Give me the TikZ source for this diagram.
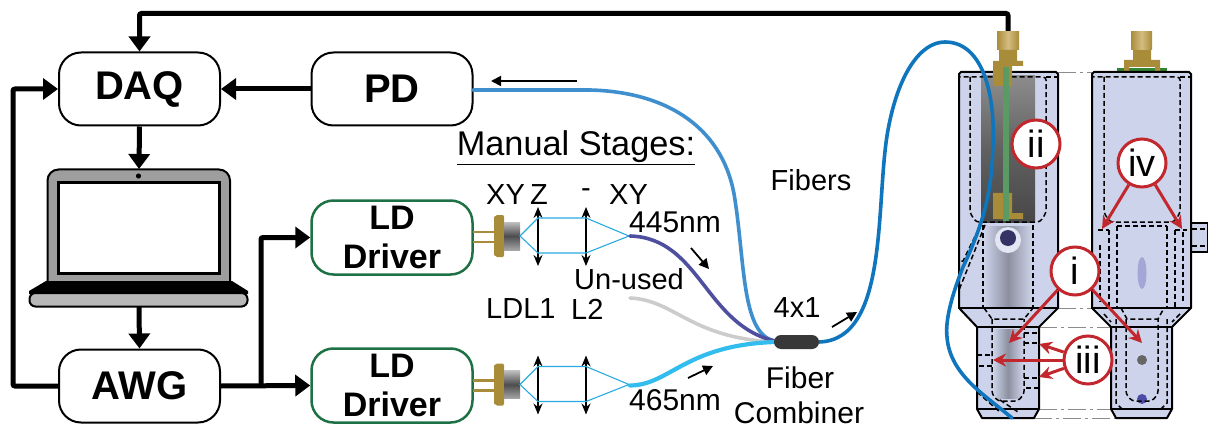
\documentclass[tikz,border=0pt]{standalone}
\usepackage{fontspec}
\setmainfont{Liberation Sans}
\usetikzlibrary{arrows.meta,calc}
\definecolor{redc}{HTML}{C1272D}
\definecolor{body}{HTML}{CDD3EA}
\definecolor{gold}{HTML}{C2A04A}
\definecolor{golddk}{HTML}{A88C3A}
\definecolor{dgreen}{HTML}{1E7145}
\definecolor{beam}{HTML}{29ABE2}
\definecolor{outblue}{HTML}{0F75BD}
\definecolor{pdblue}{HTML}{3F8FCF}
\definecolor{indigo}{HTML}{4F4FA0}
\definecolor{skyb}{HTML}{33BDEF}
\definecolor{pcb}{HTML}{5B9A62}
\tikzset{
 blackbox/.style={draw=black,line width=2pt,rounded corners=22pt,minimum width=161pt,minimum height=73pt,align=center,font=\fontsize{40}{40}\selectfont\bfseries},
 greenbox/.style={draw=dgreen,line width=2.5pt,rounded corners=22pt,minimum width=161pt,minimum height=74pt,align=center,inner sep=0pt,font=\fontsize{34}{39}\selectfont\bfseries},
 conn/.style={line width=5pt,-{Triangle[length=15pt,width=21pt]}},
 smallarrow/.style={line width=1.8pt,-{Triangle[length=10pt,width=10pt]}},
 lbl/.style={font=\fontsize{29}{29}\selectfont,inner sep=0pt},
 lblb/.style={font=\fontsize{30}{30}\selectfont,inner sep=0pt},
 callout/.style={circle,draw=redc,line width=3pt,fill=white,minimum size=48pt,inner sep=0pt,font=\fontsize{38}{38}\selectfont},
 redarrow/.style={draw=redc,line width=3pt,-{Stealth[length=13pt,width=13pt]}},
 lensarrow/.style={line width=1.4pt,{Stealth[length=11pt,width=9pt]}-{Stealth[length=11pt,width=9pt]}},
 ray/.style={draw=beam,line width=1.1pt},
 dashln/.style={line width=1.5pt,dash pattern=on 5pt off 3pt},
 ghost/.style={draw=black!45,line width=.8pt,dash pattern=on 18pt off 4pt on 3pt off 4pt},
 outlined/.style={draw=black,line width=2pt,fill=body,line join=round},
 fiber/.style={line width=3.6pt,line cap=round},
}
\newcommand{\diode}[1]{%
 \begin{scope}[yshift=-#1pt]
 \draw[golddk,line width=2.4pt] (473,232) -- (495,232) (473,242) -- (495,242);
 \fill[golddk] (494,217) -- (497,215) -- (503,215) -- (504,217) -- (504,255) -- (503,257) -- (497,257) -- (494,255) -- cycle;
 \shade[top color=black!25,bottom color=black!35,middle color=black!70] (504,222) rectangle (520,250);
 \draw[lensarrow] (538,207) -- (538,266);
 \draw[lensarrow] (586,207) -- (586,266);
 \draw[ray] (520,236) -- (538,218) -- (586,218) -- (629,236) -- (586,253) -- (538,253) -- cycle;
 \end{scope}}
\begin{document}
\begin{tikzpicture}[x=1pt,y=-1pt]
\useasboundingbox (0,0) rectangle (1208,425);
% boxes
\node[blackbox] (daq) at (139.5,89) {DAQ};
\node[blackbox] (pd) at (392,89) {PD};
\node[blackbox] (awg) at (139.5,386) {AWG};
\node[greenbox] (lda) at (392,237.5) {LD\\Driver};
\node[greenbox] (ldb) at (392,385.5) {LD\\Driver};
% laptop
\draw[line width=2pt,fill=black!38,rounded corners=11pt] (47.5,283) -- (47.5,169.5) -- (230,169.5) -- (230,283);
\fill[black] (46,281) -- (232,281) -- (248,291) -- (248,294) -- (29,294) -- (29,291) -- cycle;
\draw[line width=2pt,fill=black!28,rounded corners=6pt] (29.5,293) -- (29.5,306.5) -- (247.5,306.5) -- (247.5,293) -- cycle;
\draw[line width=3pt,fill=white] (58.5,182.5) rectangle (219.5,273.5);
\fill (138.5,176) circle (2.6pt);
\coordinate (laptoptop) at (139,169);
\coordinate (laptopbot) at (139,307);
\coordinate (sma) at (1008,32);
\coordinate (jn) at (261,385.5);
% connectors
\draw[conn,rounded corners=2pt] (sma) -- (1008,13.5) -- (139.5,13.5) -- (daq.north);
\draw[conn] (pd.west) -- (daq.east);
\draw[conn] (daq.south) -- (laptoptop);
\draw[conn] (laptopbot) -- (awg.north);
\draw[conn,rounded corners=2pt] (awg.west) -- (13,386) |- (daq.west);
\draw[conn] (awg.east) -- (ldb.west);
\draw[conn,rounded corners=2pt] (jn) |- (lda.west);
% optics
\diode{0}
\diode{148.5}
% mechanical left
\draw[ghost] (1058,72) -- (1092,72) (1058,308) -- (1092,308) (1039,327) -- (1111,327) (1039,409) -- (1111,409) (1034,418) -- (1116,418);
\draw[outlined] (959,74) -- (961,72) -- (1056,72) -- (1058,74) -- (1058,308) -- (1039,327) -- (1039,409) -- (1034,418) -- (982,418) -- (977,409) -- (977,327) -- (959,308) -- cycle;
\draw[black,line width=2pt] (959,308) -- (1058,308) (977,327) -- (1039,327) (977,409) -- (1039,409);
\shade[top color=black!45,bottom color=black!72,middle color=black!62] (981,76) rectangle (1035,222);
\shade[left color=body,right color=body,middle color=body!68!black] (984,226) rectangle (1032,306);
\shade[left color=body,right color=body,middle color=body!68!black] (993,329) rectangle (1023,398);
\fill[white!45!body] (1008,240) circle (13pt);
\fill[blue!25!black!80] (1008,238) circle (8pt);
% dashes left
\draw[dashln,rounded corners=3pt] (970,77) -- (970,213) -- (976,222) -- (1040,222) -- (1046,213) -- (1046,77) -- (959,77);
\draw[dashln] (1046,77) -- (1058,77);
\draw[dashln] (983,225) -- (983,308) (1033,225) -- (1033,308);
\draw[dashln] (985,225) -- (959,290);
\draw[dashln] (982,222) -- (963,261) -- (959,261);
\draw[dashln] (984,308) -- (992,319) -- (1024,319) -- (1033,308);
\draw[dashln,rounded corners=3pt] (992,319) -- (992,394) -- (998,401) -- (1018,401) -- (1024,394) -- (1024,319);
\draw[dashln] (1024,333) -- (1039,333) (1024,343) -- (1037,343) (977,355) -- (992,355) (979,366) -- (992,366) (1024,378) -- (1039,378) (1026,388) -- (1039,388);
\draw[dashln] (977,392) -- (1000,412) (1000,400) -- (1018,412);
% gold left
\shade[left color=golddk,right color=golddk,middle color=gold!70!white] (997,32) rectangle (1019,50);
\fill[golddk] (999,50) -- (1017,50) -- (1017,61) -- (1023,61) -- (1023,66) -- (1012,66) -- (1012,86) -- (993,86) -- (993,61) -- (999,61) -- cycle;
\fill[golddk] (993,193) -- (1012,193) -- (1012,213) -- (1023,213) -- (1023,219) -- (993,219) -- cycle;
\fill[pcb] (1003,67) rectangle (1009,221);
% mechanical right
\draw[outlined] (1189,223) -- (1208,223) -- (1208,252) -- (1189,252) -- cycle;
\draw[dashln] (1192,229) -- (1208,229) (1192,246) -- (1208,246);
\fill[green!40!black!80] (1117,68) rectangle (1167,73);
\fill[golddk] (1133,50) -- (1151,50) -- (1151,60) -- (1160,60) -- (1160,72) -- (1155,72) -- (1155,67) -- (1129,67) -- (1129,72) -- (1124,72) -- (1124,60) -- (1133,60) -- cycle;
\shade[left color=golddk,right color=golddk,middle color=gold!70!white] (1131,32) rectangle (1152,50);
\draw[outlined] (1092,74) -- (1094,72) -- (1189,72) -- (1191,74) -- (1191,308) -- (1172,327) -- (1172,409) -- (1167,418) -- (1116,418) -- (1111,409) -- (1111,327) -- (1092,308) -- cycle;
\draw[black,line width=2pt] (1092,308) -- (1191,308) (1111,327) -- (1172,327) (1111,409) -- (1172,409);
\fill[body!88!blue!90!black] (1142,273) ellipse (4.5pt and 16pt);
\fill[black!60] (1142,360) circle (5pt);
\fill[blue!50!black!70] (1142,399) circle (5pt);
\draw[dashln,rounded corners=3pt] (1104,77) -- (1104,213) -- (1110,222) -- (1174,222) -- (1180,213) -- (1180,77) -- (1092,77);
\draw[dashln] (1180,77) -- (1191,77);
\draw[dashln] (1117,226) -- (1117,308) (1167,226) -- (1167,308) (1117,226) -- (1167,226);
\draw[dashln] (1109,230) -- (1109,308) (1175,230) -- (1175,308) (1098,230) -- (1109,230) (1175,230) -- (1187,230);
\draw[dashln] (1100,245) -- (1100,302) (1183,232) -- (1183,302);
\draw[dashln] (1121,308) -- (1127,319) -- (1158,319) -- (1164,308);
\draw[dashln,rounded corners=3pt] (1126,319) -- (1126,394) -- (1132,401) -- (1152,401) -- (1158,394) -- (1158,319);
\draw[dashln] (1116,319) -- (1116,403) -- (1122,409) (1167,319) -- (1167,403) -- (1161,409) (1104,314) -- (1111,322) (1180,314) -- (1172,322);
% fibers
\draw[fiber,color=pdblue] (473,90) -- (590,90) .. controls (670,92) and (725,130) .. (735,200) .. controls (745,265) and (742,335) .. (775,341);
\draw[fiber,color=black!20] (630,298) .. controls (675,300) and (690,338) .. (775,342);
\draw[fiber,color=indigo] (630,236) .. controls (700,238) and (705,325) .. (775,341);
\draw[fiber,color=skyb,line width=4.2pt] (630,385.5) .. controls (670,385) and (685,345) .. (775,342);
\draw[fiber,color=outblue] (819,342) .. controls (890,340) and (875,200) .. (888,130) .. controls (898,75) and (920,42) .. (945,42) .. controls (985,42) and (995,100) .. (993,143) .. controls (992,190) and (985,220) .. (963,267) .. controls (952,295) and (945,320) .. (947,337) .. controls (950,375) and (985,395) .. (1012,418);
\node[fill=black!78,rounded corners=7pt,minimum width=45pt,minimum height=14pt,inner sep=0pt] (comb) at (796.5,342) {};
% small arrows
\coordinate (a1s) at (577,81); \coordinate (a1e) at (491,81);
\coordinate (a2s) at (691,248); \coordinate (a2e) at (709,269);
\coordinate (a3s) at (688,378); \coordinate (a3e) at (713,366);
\coordinate (a4s) at (832,327); \coordinate (a4e) at (857,312);
\draw[smallarrow] (a1s) -- (a1e);
\draw[smallarrow] (a2s) -- (a2e);
\draw[smallarrow] (a3s) -- (a3e);
\draw[smallarrow] (a4s) -- (a4e);
% labels
\node[font=\fontsize{34.3}{34.3}\selectfont,inner sep=0pt] (ms) at (576,148) {\underline{Manual Stages:}};
\node[lbl] (fb) at (811,180) {Fibers};
\node[lbl,anchor=west] (xy1) at (486,195) {XY};
\node[lbl,anchor=west] (z1) at (530,195) {Z};
\node[lbl] (mn) at (586,193) {-};
\node[lbl,anchor=west] (xy2) at (609,195) {XY};
\node[lblb,anchor=west] (n445) at (629,222) {445nm};
\node[lbl,anchor=west] (un) at (574,279) {Un-used};
\node[lbl,anchor=west] (ldl) at (486,309) {LDL1};
\node[lbl,anchor=west] (l2) at (571,309) {L2};
\node[lblb,anchor=west] (n465) at (629,400) {465nm};
\node[lbl] (fx) at (797,308) {4x1};
\node[lblb] (fbr) at (800,378) {Fiber};
\node[lblb] (cmb) at (799,413) {Combiner};
% callouts
\node[callout] (ii) at (1036,144) {ii};
\node[callout] (iv) at (1142,163) {iv};
\node[callout] (i) at (1075,271) {i};
\node[callout] (iii) at (1088,360) {iii};
\coordinate (iva) at (1102,229); \coordinate (ivb) at (1182,229);
\coordinate (ia) at (1009,343); \coordinate (ib) at (1142,343);
\coordinate (iiia) at (1039,344); \coordinate (iiib) at (993,360); \coordinate (iiic) at (1039,377);
\draw[redarrow] (iv) -- (iva);
\draw[redarrow] (iv) -- (ivb);
\draw[redarrow] (i) -- (ia);
\draw[redarrow] (i) -- (ib);
\draw[redarrow] (iii) -- (iiia);
\draw[redarrow] (iii) -- (iiib);
\draw[redarrow] (iii) -- (iiic);
\end{tikzpicture}
\end{document}
